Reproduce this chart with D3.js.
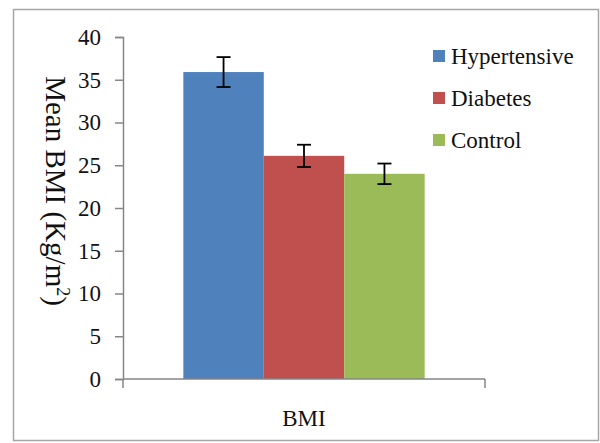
<!DOCTYPE html>
<html><head><meta charset="utf-8">
<script src="https://cdn.jsdelivr.net/npm/d3@7"></script>
<style>html,body{margin:0;padding:0;background:#fff;}svg{display:block;}</style>
</head><body>
<svg id="c" width="600" height="443"></svg>
<script>
const categories = ["BMI"];
const seriesNames = ["Hypertensive", "Diabetes", "Control"];
const seriesValues = [35.9, 26.1, 24.0];
const seriesErrors = [1.75, 1.3, 1.2];
const seriesColors = ["#4F81BD", "#C0504D", "#9BBB59"];
const yTicks = [0, 5, 10, 15, 20, 25, 30, 35, 40];

(function () {
const svg = d3.select("#c");
const font = "'Liberation Serif','Times New Roman',serif";
svg.append("rect").attr("x", 13.5).attr("y", 9.5).attr("width", 585).attr("height", 431)
  .attr("fill", "#fff").attr("stroke", "#a6a6a6").attr("stroke-width", 1.5);

const pLeft = 123, pRight = 485, pTop = 37, pBottom = 379;
const y = d3.scaleLinear().domain([0, 40]).range([pBottom, pTop]);
const x0 = d3.scaleBand().domain(categories).range([pLeft, pRight]);
// bar group spans the middle 2/3 of the category band
const groupW = x0.bandwidth() * 2 / 3;
const x1 = d3.scaleBand().domain(seriesNames).range([0, groupW]);

const yAxis = svg.append("g").attr("transform", `translate(${pLeft},0)`)
  .call(d3.axisLeft(y).tickValues(yTicks).tickSize(8).tickPadding(14));
yAxis.select(".domain").attr("stroke", "#868686").attr("stroke-width", 1.5);
yAxis.selectAll(".tick line").attr("stroke", "#868686").attr("stroke-width", 1.5);
yAxis.selectAll(".tick text").attr("font-family", font).attr("font-size", 23).attr("fill", "#111");

const g = svg.append("g").attr("transform", `translate(${x0(categories[0]) + (x0.bandwidth() - groupW) / 2},0)`);
g.selectAll("rect.bar").data(seriesNames).join("rect").attr("class", "bar")
  .attr("x", d => x1(d)).attr("width", x1.bandwidth())
  .attr("y", (d, i) => y(seriesValues[i])).attr("height", (d, i) => pBottom - y(seriesValues[i]))
  .attr("fill", (d, i) => seriesColors[i]);

const eb = g.selectAll("g.err").data(seriesNames).join("g").attr("class", "err")
  .attr("transform", d => `translate(${x1(d) + x1.bandwidth() / 2},0)`);
eb.append("line").attr("y1", (d, i) => y(seriesValues[i] + seriesErrors[i]))
  .attr("y2", (d, i) => y(seriesValues[i] - seriesErrors[i])).attr("stroke", "#000").attr("stroke-width", 1.8);
eb.append("line").attr("x1", -7).attr("x2", 7).attr("y1", (d, i) => y(seriesValues[i] + seriesErrors[i]))
  .attr("y2", (d, i) => y(seriesValues[i] + seriesErrors[i])).attr("stroke", "#000").attr("stroke-width", 1.8);
eb.append("line").attr("x1", -7).attr("x2", 7).attr("y1", (d, i) => y(seriesValues[i] - seriesErrors[i]))
  .attr("y2", (d, i) => y(seriesValues[i] - seriesErrors[i])).attr("stroke", "#000").attr("stroke-width", 1.8);

// x axis
const xAxis = svg.append("g").attr("transform", `translate(0,${pBottom})`);
xAxis.append("line").attr("x1", pLeft).attr("x2", pRight).attr("stroke", "#868686").attr("stroke-width", 1.5);
[pLeft, pRight].forEach(px => xAxis.append("line").attr("x1", px).attr("x2", px).attr("y1", 0).attr("y2", 9)
  .attr("stroke", "#868686").attr("stroke-width", 1.5));
svg.append("text").attr("x", x0(categories[0]) + x0.bandwidth() / 2).attr("y", 426).attr("text-anchor", "middle")
  .attr("font-family", font).attr("font-size", 23).attr("fill", "#111").text(categories[0]);

// y title
const yt = svg.append("text").attr("transform", "translate(46,191) rotate(90)").attr("text-anchor", "middle")
  .attr("font-family", font).attr("font-size", 29).attr("fill", "#111");
yt.append("tspan").text("Mean BMI (Kg/m");
yt.append("tspan").attr("font-size", 18).attr("dy", -11).text("2");
yt.append("tspan").attr("dy", 11).text(")");

// legend
const legY = [56, 98, 140];
const lg = svg.selectAll("g.leg").data(seriesNames).join("g").attr("class", "leg")
  .attr("transform", (d, i) => `translate(433,${legY[i]})`);
lg.append("rect").attr("x", 0).attr("y", -6).attr("width", 12).attr("height", 12).attr("fill", (d, i) => seriesColors[i]);
lg.append("text").attr("x", 18).attr("y", 8).attr("font-family", font).attr("font-size", 23).attr("fill", "#111").text(d => d);
})();
</script>
</body></html>
